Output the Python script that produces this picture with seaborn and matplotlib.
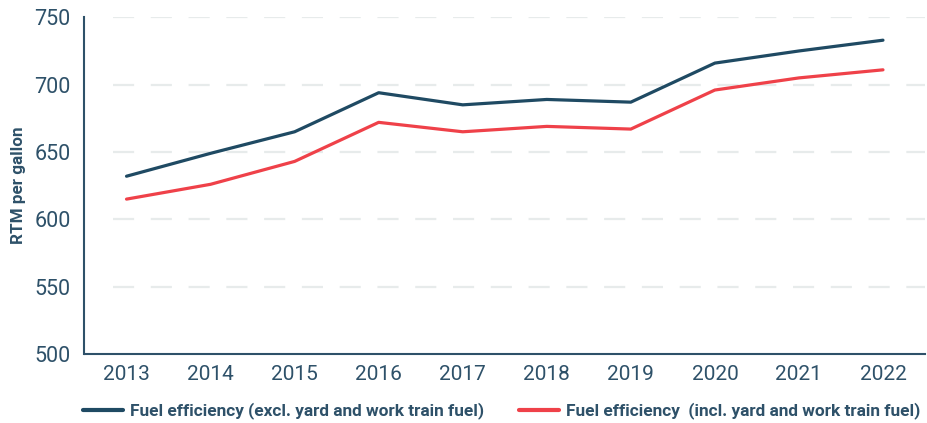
import numpy as np
import pandas as pd
import matplotlib
matplotlib.use("Agg")
import matplotlib.pyplot as plt
from matplotlib.ticker import FixedLocator, NullFormatter, FixedFormatter
from matplotlib.lines import Line2D
import seaborn as sns

years = [2013, 2014, 2015, 2016, 2017, 2018, 2019, 2020, 2021, 2022]
excl_yard = [632, 649, 665, 694, 685, 689, 687, 716, 725, 733]
incl_yard = [615, 626, 643, 672, 665, 669, 667, 696, 705, 711]
series_names = ["Fuel efficiency (excl. yard and work train fuel)",
                "Fuel efficiency  (incl. yard and work train fuel)"]
y_ticks = [500, 550, 600, 650, 700, 750]
y_label = "RTM per gallon"

df = pd.DataFrame({
    "year": years * 2,
    "value": excl_yard + incl_yard,
    "series": [series_names[0]] * len(years) + [series_names[1]] * len(years),
})

sns.set_style("white")
plt.rcParams["font.family"] = ["Roboto", "DejaVu Sans"]

DARK = "#1f4a63"
RED = "#ef4149"
TXT = "#2e5169"
GRID = "#e7ebeb"

fig = plt.figure(figsize=(9.28, 4.23), dpi=100)
ax = fig.add_axes([84.5 / 928, 69 / 423, 840.5 / 928, (354 - 17.3) / 423])

sns.lineplot(data=df, x="year", y="value", hue="series",
             palette={series_names[0]: DARK, series_names[1]: RED},
             linewidth=2.3, ax=ax, legend=False)

ax.set_xlim(years[0] - 0.5, years[-1] + 0.5)
ax.set_ylim(y_ticks[0], y_ticks[-1])

for yv in y_ticks[1:]:
    ax.axhline(yv, xmin=0.034, xmax=1, color=GRID, linewidth=1.6,
               linestyle=(0, (9.5, 7.5)), zorder=0)

# x axis: ticks at band boundaries, labels at centres
bounds = [y - 0.5 for y in years] + [years[-1] + 0.5]
ax.xaxis.set_major_locator(FixedLocator(bounds))
ax.xaxis.set_major_formatter(NullFormatter())
ax.xaxis.set_minor_locator(FixedLocator(years))
ax.xaxis.set_minor_formatter(FixedFormatter([str(y) for y in years]))
ax.tick_params(axis="x", which="major", direction="in", length=7, width=1.3,
               color=TXT)
ax.tick_params(axis="x", which="minor", length=0, pad=8, labelsize=15,
               labelcolor=TXT)

ax.set_yticks(y_ticks)
ax.tick_params(axis="y", direction="in", length=7.5, width=1.3, color=TXT,
               pad=10, labelsize=15.5, labelcolor=TXT)

for s in ["top", "right"]:
    ax.spines[s].set_visible(False)
for s in ["left", "bottom"]:
    ax.spines[s].set_color(TXT)
    ax.spines[s].set_linewidth(1.5)

ax.set_xlabel("")
ax.set_ylabel(y_label, fontsize=12.3, fontweight="bold", color=TXT)
ax.yaxis.set_label_coords(-58 / 840.5, 0.5)

handles = [Line2D([], [], color=DARK, linewidth=3),
           Line2D([], [], color=RED, linewidth=3)]
leg = fig.legend(handles, series_names, loc="center", ncol=2,
                 bbox_to_anchor=(501.5 / 928, 1 - 411 / 423), frameon=False,
                 prop={"weight": "bold", "size": 12.4}, handlelength=2.35,
                 handletextpad=0.4, columnspacing=2.0)
for t in leg.get_texts():
    t.set_color(TXT)

fig.savefig("out.png", dpi=100)
